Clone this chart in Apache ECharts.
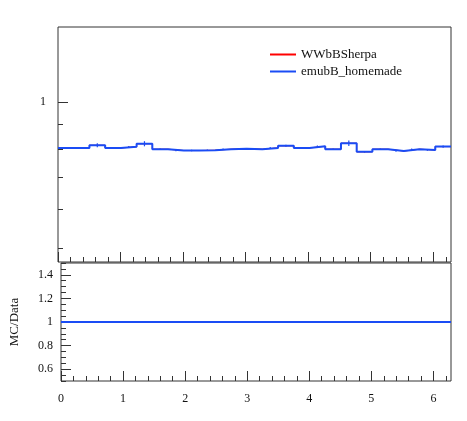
<!DOCTYPE html>
<html>
<head>
<meta charset="utf-8">
<script src="https://cdn.jsdelivr.net/npm/echarts@6/dist/echarts.min.js"></script>
<style>
  html, body { margin: 0; padding: 0; background: #fff; }
  #chart { width: 467px; height: 421px; }
</style>
</head>
<body>
<div id="chart"></div>
<script>
var nBins = 25;
var xMax = 2 * Math.PI;
var sherpaValues = [0.805, 0.805, 0.815, 0.805, 0.809, 0.821, 0.800, 0.795, 0.795, 0.796, 0.800, 0.802, 0.800, 0.805, 0.813,
  0.805, 0.811, 0.800, 0.823, 0.790, 0.800, 0.793, 0.800, 0.797, 0.810];
var homemadeValues = sherpaValues.slice();
var homemadeErrors = [0.003, 0.003, 0.008, 0.003, 0.003, 0.010, 0.003, 0.003, 0.003, 0.003, 0.003, 0.003, 0.003, 0.003, 0.004,
  0.003, 0.003, 0.003, 0.011, 0.003, 0.003, 0.003, 0.003, 0.003, 0.004];
var ratioValues = [1, 1];
var mainTicks = [0.5, 0.6, 0.7, 0.8, 0.9, 1];
var ratioLabels = [0.6, 0.8, 1, 1.2, 1.4];
var xLabels = [0, 1, 2, 3, 4, 5, 6];

var blue = '#1a4cf5';
var red = '#ff0000';
var font = 'Liberation Serif';
var binWidth = xMax / nBins;

function stepData(values) {
  var d = values.map(function (v, i) { return [i * binWidth, v]; });
  d.push([xMax, values[values.length - 1]]);
  return d;
}

function range(a, b, s) {
  var out = [];
  for (var v = a; v <= b + 1e-9; v += s) out.push(+v.toFixed(3));
  return out;
}

var minorX = range(0, 6.2, 0.2);

function xAxisPair(grid, showLabels) {
  var base = {
    type: 'value', gridIndex: grid, min: 0, max: xMax, position: 'bottom',
    axisLine: { show: false },
    splitLine: { show: false }
  };
  return [
    Object.assign({}, base, {
      axisTick: { inside: true, length: 5, customValues: minorX, lineStyle: { color: '#333' } },
      axisLabel: { show: false }
    }),
    Object.assign({}, base, {
      axisTick: { inside: true, length: 10, customValues: xLabels, lineStyle: { color: '#333' } },
      axisLabel: { show: showLabels, customValues: xLabels, fontFamily: font, fontSize: 12, color: '#111', margin: 12 }
    })
  ];
}

var chart = echarts.init(document.getElementById('chart'));
chart.setOption({
  animation: false,
  grid: [
    { left: 58, right: 16, top: 27, height: 235, show: true, borderColor: '#333', borderWidth: 1 },
    { left: 58, right: 16, top: 263, height: 118, show: true, borderColor: '#333', borderWidth: 1 }
  ],
  legend: {
    data: ['WWbBSherpa', 'emubB_homemade'],
    orient: 'vertical', left: 265, top: 43, itemGap: 4,
    itemWidth: 26, itemHeight: 10,
    icon: 'path://M0,4h26v2h-26z',
    textStyle: { fontFamily: font, fontSize: 13, color: '#111' }
  },
  xAxis: xAxisPair(0, false).concat(xAxisPair(1, true)),
  yAxis: [
    {
      type: 'log', gridIndex: 0, min: 0.468, max: 1.43,
      axisLine: { show: false }, splitLine: { show: false },
      axisTick: { inside: true, length: 5, customValues: mainTicks, lineStyle: { color: '#333' } },
      axisLabel: { customValues: [1], formatter: '1', fontFamily: font, fontSize: 12, color: '#111', margin: 12 }
    },
    {
      type: 'log', gridIndex: 0, min: 0.468, max: 1.43, position: 'left',
      axisLine: { show: false }, splitLine: { show: false },
      axisTick: { inside: true, length: 10, customValues: [1], lineStyle: { color: '#333' } },
      axisLabel: { show: false }
    },
    {
      type: 'value', gridIndex: 1, min: 0.5, max: 1.5,
      name: 'MC/Data', nameLocation: 'middle', nameGap: 40,
      nameTextStyle: { fontFamily: font, fontSize: 13, color: '#111' },
      axisLine: { show: false }, splitLine: { show: false },
      axisTick: { inside: true, length: 5, customValues: range(0.5, 1.5, 0.05), lineStyle: { color: '#333' } },
      axisLabel: { customValues: ratioLabels, fontFamily: font, fontSize: 12, color: '#111', margin: 8 }
    },
    {
      type: 'value', gridIndex: 1, min: 0.5, max: 1.5, position: 'left',
      axisLine: { show: false }, splitLine: { show: false },
      axisTick: { inside: true, length: 10, customValues: ratioLabels, lineStyle: { color: '#333' } },
      axisLabel: { show: false }
    }
  ],
  series: [
    {
      name: 'WWbBSherpa', type: 'line', xAxisIndex: 0, yAxisIndex: 0, step: 'end',
      data: stepData(sherpaValues), showSymbol: false, color: red,
      lineStyle: { color: red, width: 1 }
    },
    {
      name: 'emubB_homemade', type: 'line', xAxisIndex: 0, yAxisIndex: 0, step: 'end',
      data: stepData(homemadeValues), showSymbol: false, color: blue,
      lineStyle: { color: blue, width: 2 }
    },
    {
      type: 'custom', xAxisIndex: 0, yAxisIndex: 0, silent: true,
      data: homemadeValues.map(function (v, i) { return [(i + 0.5) * binWidth, v, homemadeErrors[i]]; }),
      renderItem: function (params, api) {
        var x = api.value(0), v = api.value(1), e = api.value(2);
        var top = api.coord([x, v + e]);
        var bot = api.coord([x, v - e]);
        return { type: 'line', shape: { x1: top[0], y1: top[1], x2: bot[0], y2: bot[1] },
          style: { stroke: blue, lineWidth: 1.2 } };
      }
    },
    {
      type: 'line', xAxisIndex: 2, yAxisIndex: 2, showSymbol: false,
      data: [[0, ratioValues[0]], [xMax, ratioValues[1]]],
      lineStyle: { color: red, width: 1 }
    },
    {
      type: 'line', xAxisIndex: 2, yAxisIndex: 2, showSymbol: false,
      data: [[0, ratioValues[0]], [xMax, ratioValues[1]]],
      lineStyle: { color: blue, width: 2 }
    }
  ]
});
</script>
</body>
</html>
